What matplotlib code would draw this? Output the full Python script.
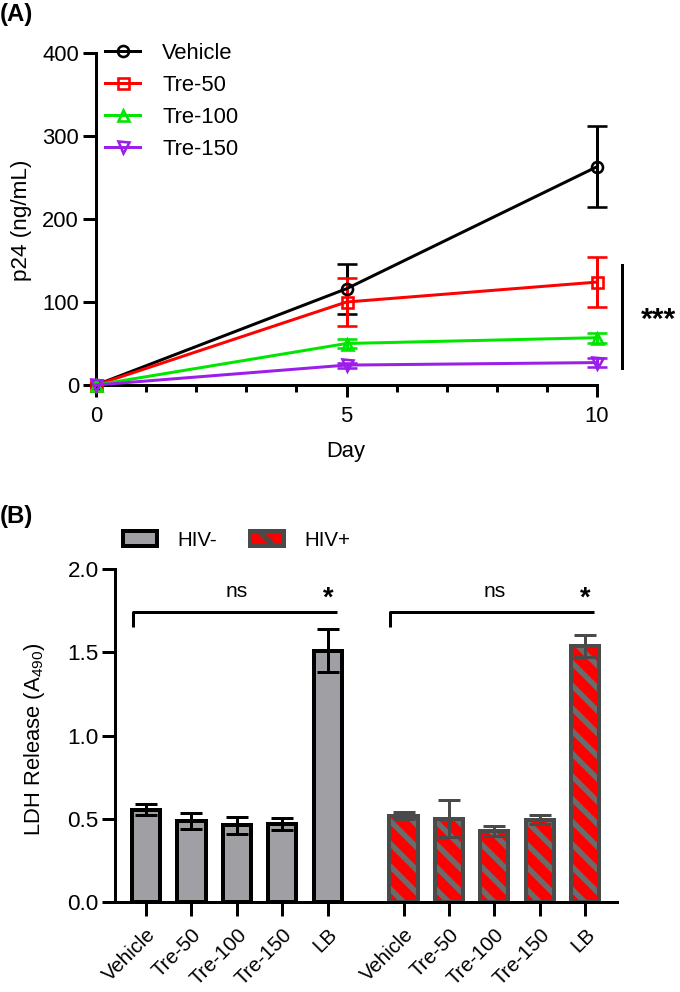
import matplotlib
matplotlib.use('Agg')
import matplotlib.pyplot as plt
import matplotlib.transforms as mtransforms
import numpy as np
from matplotlib.patches import Patch
from matplotlib.lines import Line2D

# panel A data (p24 over time)
days = [0, 5, 10]
vehicle = [0, 116, 263]
vehicle_err = [0, 30, 49]
tre50 = [0, 100, 124]
tre50_err = [0, 29, 30]
tre100 = [0, 50, 57]
tre100_err = [0, 6, 6]
tre150 = [0, 24, 27]
tre150_err = [0, 3, 5]

# panel B data (LDH release)
conditions = ['Vehicle', 'Tre-50', 'Tre-100', 'Tre-150', 'LB']
hiv_neg = [0.555, 0.485, 0.46, 0.467, 1.51]
hiv_neg_err = [0.035, 0.048, 0.052, 0.037, 0.13]
hiv_pos = [0.518, 0.50, 0.428, 0.494, 1.538]
hiv_pos_err = [0.02, 0.11, 0.03, 0.027, 0.068]

DPI = 136
W, H = 680, 992


def pt(px):
    # pixels -> points at this dpi
    return px * 72 / DPI


plt.rcParams['font.family'] = ['Liberation Sans', 'DejaVu Sans']
plt.rcParams['mathtext.fontset'] = 'custom'
plt.rcParams['mathtext.rm'] = 'Liberation Sans'
plt.rcParams['hatch.linewidth'] = pt(5.5)
plt.rcParams['hatch.color'] = '#6b6b6b'

fig = plt.figure(figsize=(W / DPI, H / DPI), dpi=DPI)
fig.set_facecolor('white')

axA = fig.add_axes([96 / W, 1 - 385 / H, 501 / W, 332 / H])
axB = fig.add_axes([115 / W, 1 - 902 / H, 502 / W, 333 / H])

# ---------------- panel A ----------------
series = [
    (vehicle, vehicle_err, 'black', 'o', 'Vehicle'),
    (tre50, tre50_err, '#ff0000', 's', 'Tre-50'),
    (tre100, tre100_err, '#00e600', '^', 'Tre-100'),
    (tre150, tre150_err, '#9b1fe8', 'v', 'Tre-150'),
]
handlesA = []
for vals, errs, c, m, lab in series:
    axA.errorbar(days, vals, yerr=errs, errorevery=(1, 1), color=c, ecolor=c,
                 marker=m, mfc='none', mec=c, ms=pt(11), mew=pt(2.6),
                 lw=pt(3), elinewidth=pt(3), capsize=pt(10), capthick=pt(3),
                 clip_on=False, zorder=3)
    handlesA.append(Line2D([], [], color=c, marker=m, mfc='none', mec=c,
                           ms=pt(11), mew=pt(2.6), lw=pt(3)))

axA.set_xlim(0, 10)
axA.set_ylim(0, 400)
axA.set_xticks([0, 5, 10])
axA.set_xticks(range(11), minor=True)
axA.set_yticks([0, 100, 200, 300, 400])
for s in ['top', 'right']:
    axA.spines[s].set_visible(False)
for s in ['left', 'bottom']:
    axA.spines[s].set_linewidth(pt(3))
axA.tick_params(axis='both', which='major', direction='out', width=pt(3),
                labelsize=pt(22), pad=pt(4))
axA.tick_params(axis='y', which='major', length=pt(13))
axA.tick_params(axis='x', which='major', length=pt(12), pad=pt(9))
axA.tick_params(axis='x', which='minor', length=pt(7), width=pt(3))

fig.text(22 / W, 1 - 220 / H, 'p24 (ng/mL)', rotation=90, ha='center',
         va='center', fontsize=pt(22.5))
fig.text(346 / W, 1 - 452 / H, 'Day', ha='center', va='center', fontsize=pt(22))

# significance line
axA.plot([10.5, 10.5], [20, 145], color='black', lw=pt(3), clip_on=False)
axA.text(11.22, 78, '***', ha='center', va='center', fontsize=pt(30),
         fontweight='bold', clip_on=False)

axA.legend(handlesA, [s[4] for s in series], loc='upper left',
           bbox_to_anchor=(9 / 501, 1 + 10 / 332), frameon=False,
           fontsize=pt(22), handlelength=1.6, handletextpad=1.0,
           labelspacing=0.5, borderpad=0, borderaxespad=0)

fig.text(0.0, 1 - 15 / H, '(A)', ha='left', va='center', fontsize=pt(24),
         fontweight='bold')

# ---------------- panel B ----------------
x1 = np.arange(5)
x2 = np.arange(5) + 5.67
bw = 0.62
gray = '#a0a0a4'
stripe = '#6b6b6b'
edge_pos = '#4a4a4a'

axB.bar(x1, hiv_neg, width=bw, color=gray, edgecolor='black', lw=pt(4), zorder=2)
axB.errorbar(x1, hiv_neg, yerr=hiv_neg_err, fmt='none', ecolor='black',
             elinewidth=pt(3), capsize=pt(11), capthick=pt(3), zorder=3)

axB.bar(x2, hiv_pos, width=bw, color='#ff0000', edgecolor=stripe, hatch='\\\\',
        lw=0, zorder=2)
axB.bar(x2, hiv_pos, width=bw, fill=False, edgecolor=edge_pos, lw=pt(4), zorder=2)
axB.errorbar(x2, hiv_pos, yerr=hiv_pos_err, fmt='none', ecolor=edge_pos,
             elinewidth=pt(3), capsize=pt(11), capthick=pt(3), zorder=3)

axB.set_xlim(-0.683, 10.37)
axB.set_ylim(0, 2.0)
axB.set_yticks([0, 0.5, 1.0, 1.5, 2.0])
axB.set_yticklabels(['0.0', '0.5', '1.0', '1.5', '2.0'])
axB.set_xticks(list(x1) + list(x2))
axB.set_xticklabels(conditions + conditions, rotation=45, ha='right',
                    rotation_mode='anchor')
# nudge rotated labels a little to the left, as in the original
shift = mtransforms.ScaledTranslation(-5 / DPI, 0, fig.dpi_scale_trans)
for lbl in axB.get_xticklabels():
    lbl.set_transform(lbl.get_transform() + shift)
for s in ['top', 'right']:
    axB.spines[s].set_visible(False)
for s in ['left', 'bottom']:
    axB.spines[s].set_linewidth(pt(3))
axB.tick_params(axis='both', direction='out', width=pt(3), labelsize=pt(22.5))
axB.tick_params(axis='y', length=pt(13), pad=pt(3))
axB.tick_params(axis='x', length=pt(14), pad=pt(9), labelsize=pt(20.5))

# brackets and labels
for start in [x1[0], x2[0]]:
    axB.plot([start - 0.29, start - 0.29, start + 4.2], [1.65, 1.742, 1.742],
             color='black', lw=pt(3), solid_capstyle='butt')
    axB.text(start + 2, 1.862, 'ns', ha='center', va='center', fontsize=pt(21))
    axB.text(start + 4, 1.82, '*', ha='center', va='center', fontsize=pt(27),
             fontweight='bold')

fig.text(35 / W, 1 - 739 / H, 'LDH Release (A$\\mathregular{_{490}}$)',
         rotation=90, ha='center', va='center', fontsize=pt(22))

handles = [Patch(facecolor=gray, edgecolor='black', lw=pt(4)),
           Patch(facecolor='#ff0000', edgecolor=edge_pos, hatch='\\\\', lw=pt(4))]
axB.legend(handles, ['HIV-', 'HIV+'], loc='center left', ncol=2,
           bbox_to_anchor=(8 / 502, 1 + 29 / 333), frameon=False,
           fontsize=pt(20.5), handlelength=1.65, handleheight=0.7,
           handletextpad=1.0, columnspacing=1.6, borderpad=0, borderaxespad=0)

fig.text(0.0, 1 - 516 / H, '(B)', ha='left', va='center', fontsize=pt(24),
         fontweight='bold')

fig.savefig('out.png', dpi=DPI, facecolor='white')
